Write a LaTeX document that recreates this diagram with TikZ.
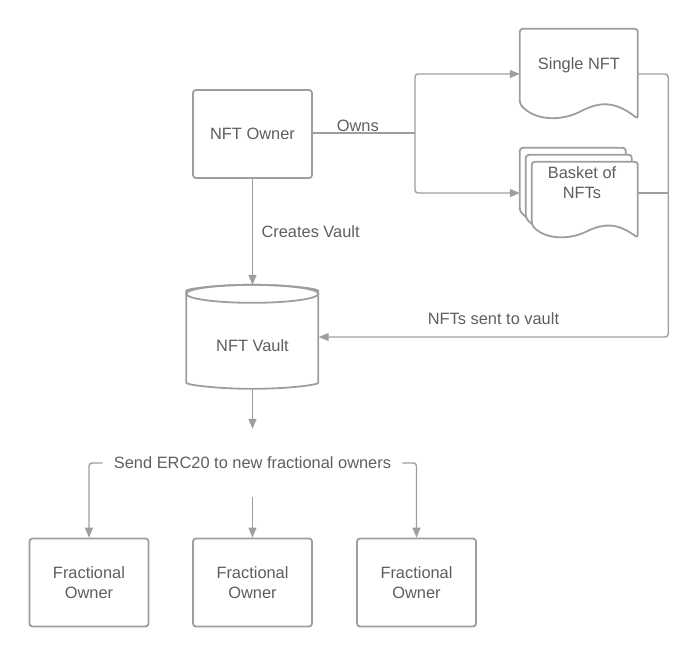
\documentclass[tikz,border=0pt]{standalone}
\usepackage{fontspec}
\setmainfont{Liberation Sans}
\usepackage{xcolor}
\usepackage{tikz}
\usetikzlibrary{arrows.meta,positioning,calc}

\definecolor{linegray}{HTML}{9E9E9E}
\definecolor{txtgray}{HTML}{5E5E5E}

% document outline (corner, width, height)
\newcommand{\docoutline}[3]{%
  \filldraw[shapeline, fill=white, shift={(#1)}, xscale=#2/118, yscale=#3/90]
    (0,75) -- (0,0) -- (118,0) -- (118,90)
    .. controls (95,72) and (80,73) .. (60,83)
    .. controls (40,92) and (15,92) .. (0,75) -- cycle;}

\begin{document}
\begin{tikzpicture}[x=1pt, y=-1pt,
    font=\fontsize{16.4}{20}\selectfont, text=txtgray,
    shapeline/.style={draw=linegray, line width=1.8pt, rounded corners=3pt},
    box/.style={shapeline, fill=white, minimum width=119pt, minimum height=88pt, align=center},
    frame/.style={inner sep=0pt, minimum width=118pt},
    conn/.style={draw=linegray, line width=1.4pt, rounded corners=3pt},
    arr/.style={conn, -{Triangle[length=10pt, width=8pt]}}]
    \useasboundingbox (0,0) rectangle (700,657);

    % Owner and what it owns
    \node[box] (owner) at (252.5,134) {NFT Owner};
    \node[frame, text height=40.7pt, text depth=49.3pt] (single) at (579,74) {};
    \docoutline{single.north west}{118}{90}
    \node at (579,65) {Single NFT};
    \node[frame, minimum height=90pt] (basket) at (579,193) {};
    \docoutline{basket.north west}{106}{76}
    \docoutline{$(basket.north west)+(6,7)$}{106}{76}
    \docoutline{$(basket.north west)+(12,14)$}{106}{76}
    \node[align=center] (basketlbl) at (582,183) {Basket of\\NFTs};

    % Vault
    \node[frame, minimum width=132pt, text height=66.7pt, text depth=37.3pt] (vault) at (252.5,337) {};
    \filldraw[shapeline, fill=white, shift={(vault.north west)}]
        (0,9) -- (0,95) arc[start angle=180, end angle=360, x radius=66pt, y radius=9pt]
        -- (132,9) arc[start angle=0, end angle=180, x radius=66pt, y radius=9pt] -- cycle;
    \draw[shapeline, shift={(vault.north west)}] (66,9) ellipse[x radius=66pt, y radius=9pt];
    \node at (252.5,346) {NFT Vault};

    % Fractional owners
    \node[inner xsep=11pt, inner ysep=28pt] (send) at (252.5,463) {Send ERC20 to new fractional owners};
    \node[box] (frac1) at (89,582.5) {Fractional\\Owner};
    \node[box] (frac2) at (252.5,582.5) {Fractional\\Owner};
    \node[box] (frac3) at (416.5,582.5) {Fractional\\Owner};

    % Connectors
    \coordinate (split) at (415,133);
    \draw[conn] (owner.east |- split) -- node[above, pos=0.44, inner sep=1pt] (ownslbl) {Owns} (split);
    \draw[arr] (split) |- (single.west);
    \draw[arr] (split) |- (basket.west);
    \draw[arr] (owner.south) -- node[right, xshift=5pt] (createlbl) {Creates Vault} (vault.north);
    \draw[arr] (single.east) -- ++(30,0) |- node[above=8pt, pos=0.75] (sentlbl) {NFTs sent to vault} (vault.east);
    \draw[conn] (basket.east) -- ++(30,0);
    \draw[arr] (vault.south) -- (send.north);
    \draw[arr] (send.west) -| (frac1.north);
    \draw[arr] (send.south) -- (frac2.north);
    \draw[arr] (send.east) -| (frac3.north);
\end{tikzpicture}
\end{document}
